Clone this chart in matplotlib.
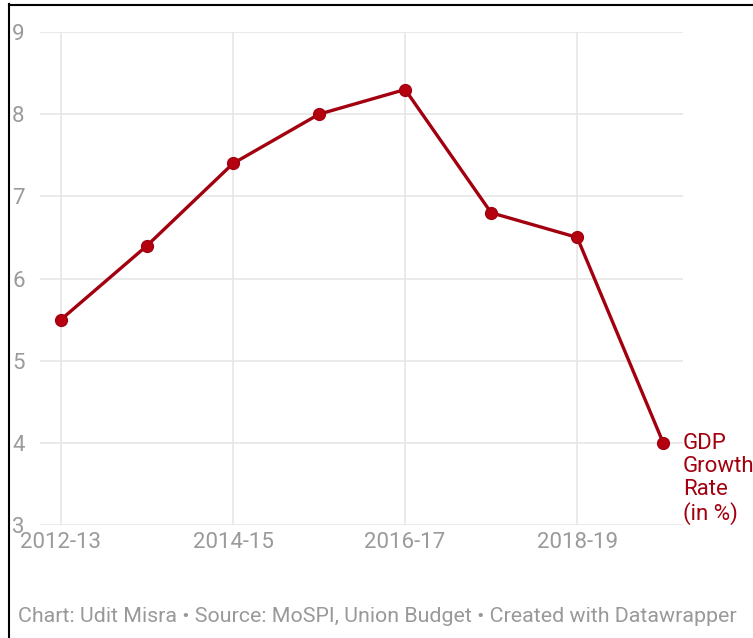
import matplotlib.pyplot as plt
from matplotlib.lines import Line2D

years = ['2012-13', '2013-14', '2014-15', '2015-16', '2016-17',
         '2017-18', '2018-19', '2019-20']
gdp_growth = [5.5, 6.4, 7.4, 8.0, 8.3, 6.8, 6.5, 4.0]
yticks = [3, 4, 5, 6, 7, 8, 9]

plt.rcParams['font.family'] = ['Roboto', 'DejaVu Sans']

W, H = 753, 638
fig = plt.figure(figsize=(W / 100, H / 100), dpi=100)
ax = fig.add_axes([40 / W, 1 - 525 / H, (683 - 40) / W, (525 - 32) / H])

red = '#a3000f'
xs = list(range(len(years)))
ax.plot(xs, gdp_growth, color=red, linewidth=2.4, marker='o', markersize=8.5,
        markerfacecolor='#b5000f', zorder=3, clip_on=False)

ax.set_xlim(-0.244, 7.23)
ax.set_ylim(3, 9)
ax.set_yticks(yticks)
ax.set_xticks(xs[::2])
ax.set_xticklabels(years[::2])

ax.grid(True, color='#e6e6e6', linewidth=1.2)
ax.set_axisbelow(True)
for s in ax.spines.values():
    s.set_visible(False)
ax.tick_params(length=0, labelsize=16, labelcolor='#9a9a9a')
ax.tick_params(axis='y', pad=11)
ax.tick_params(axis='x', pad=5)

ax.text(7.23, gdp_growth[-1] + 0.12, 'GDP\nGrowth\nRate\n(in %)', color=red,
        fontsize=16, ha='left', va='top', linespacing=1.12, clip_on=False)

fig.text(18 / W, 1 - 617 / H, 'Chart: Udit Misra \u2022 Source: MoSPI, Union Budget \u2022 Created with Datawrapper',
         fontsize=15.4, color='#999999', va='center', ha='left')

# screenshot frame
fig.add_artist(Line2D([8.5 / W, 8.5 / W], [0, 1 - 4 / H], color='black', linewidth=1.5))
fig.add_artist(Line2D([8.5 / W, 1], [1 - 4.5 / H, 1 - 4.5 / H], color='black', linewidth=1.5))

fig.savefig('out.png', dpi=100)
